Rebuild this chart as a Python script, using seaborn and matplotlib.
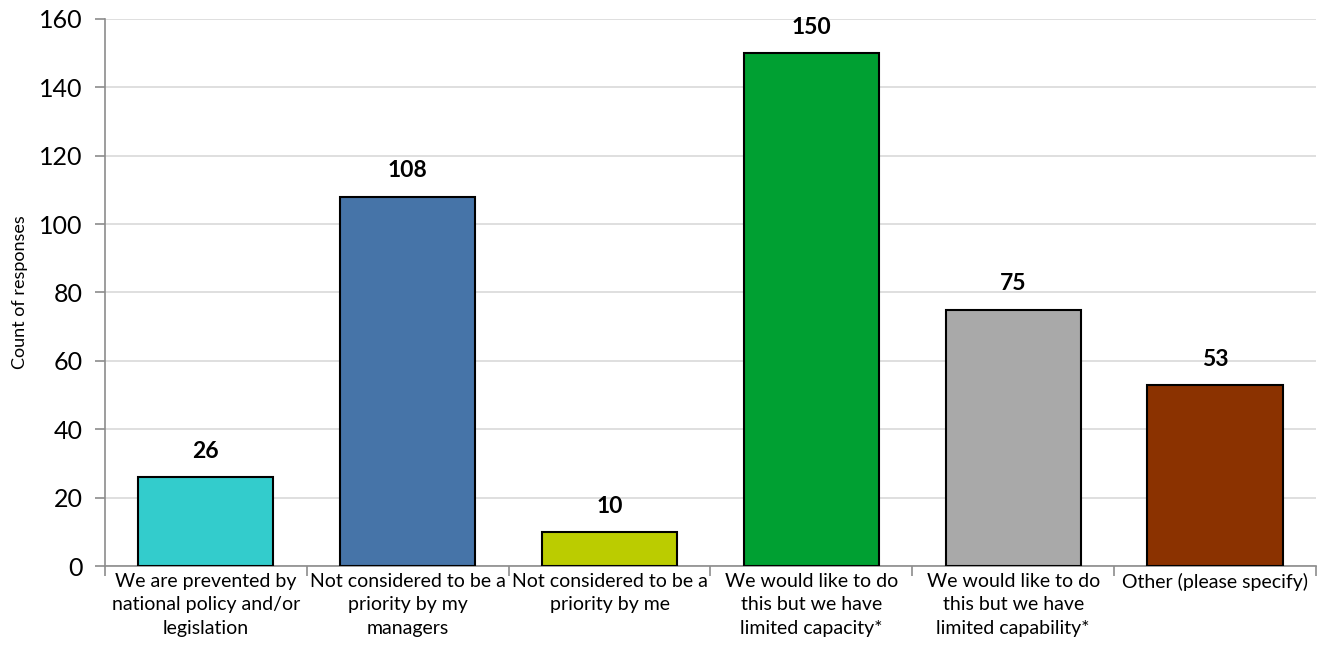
import numpy as np
import pandas as pd
import seaborn as sns
import matplotlib.pyplot as plt
from matplotlib.ticker import FixedLocator

categories = [
    "We are prevented by\nnational policy and/or\nlegislation",
    "Not considered to be a\npriority by my\nmanagers",
    "Not considered to be a\npriority by me",
    "We would like to do\nthis but we have\nlimited capacity*",
    "We would like to do\nthis but we have\nlimited capability*",
    "Other (please specify)",
]
counts = [26, 108, 10, 150, 75, 53]
colors = ["#33CCCC", "#4674A8", "#BBCC00", "#00A032", "#A9A9A9", "#8B3200"]

sns.set_theme(style="white", rc={"text.color": "black",
                                 "axes.labelcolor": "black",
                                 "xtick.color": "black",
                                 "ytick.color": "black"})
plt.rcParams['font.family'] = ['Lato', 'DejaVu Sans']

df = pd.DataFrame({"category": categories, "count": counts})

fig = plt.figure(figsize=(13.25, 6.59), dpi=100)
ax = fig.add_axes([0.0792, 0.1411, 0.9140, 0.8301])

sns.barplot(data=df, x="category", y="count", hue="category",
            palette=colors, legend=False, width=0.67,
            edgecolor="black", linewidth=1.5, saturation=1, ax=ax, zorder=3)

for cont in ax.containers:
    ax.bar_label(cont, padding=11, fontsize=16.5, fontweight='bold',
                 color="black")

ax.set_ylim(0, 160)
ax.set_xlim(-0.5, len(categories) - 0.5)
ax.set_yticks(np.arange(0, 161, 20))
ax.yaxis.grid(True, color="#D9D9D9", linewidth=1.2, zorder=0)
ax.set_axisbelow(True)

ax.set_xlabel("")
ax.set_ylabel("Count of responses", fontsize=13, labelpad=8)

ax.tick_params(axis='y', labelsize=18, length=7, color="#8C8C8C",
               labelcolor="black", width=1.2, left=True, pad=9)
ax.tick_params(axis='x', which='major', labelsize=14, length=0, pad=5,
               labelcolor="black")
for lbl in ax.get_xticklabels():
    lbl.set_linespacing(1.45)
ax.xaxis.set_minor_locator(FixedLocator(np.arange(-0.5, len(categories), 1)))
ax.tick_params(axis='x', which='minor', length=7, color="#8C8C8C",
               width=1.2, bottom=True)

for side in ['top', 'right']:
    ax.spines[side].set_visible(False)
for side in ['left', 'bottom']:
    ax.spines[side].set_color("#8C8C8C")
    ax.spines[side].set_linewidth(1.2)

plt.savefig("out.png", dpi=100)
